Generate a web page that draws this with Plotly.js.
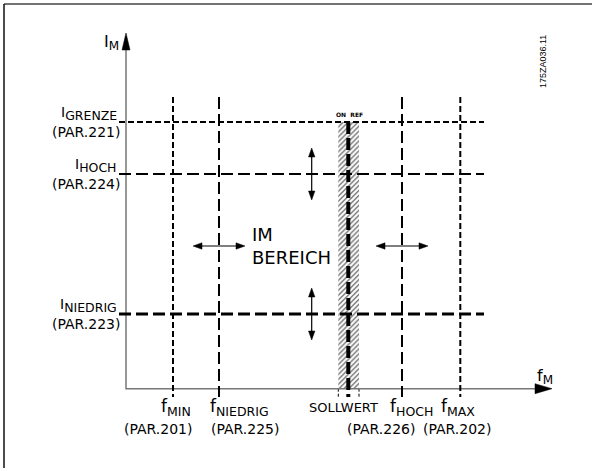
<!DOCTYPE html>
<html>
<head>
<meta charset="utf-8">
<script src="https://cdn.plot.ly/plotly-3.0.1.min.js"></script>
<style>html,body{margin:0;padding:0;background:#fff}#chart{width:592px;height:468px}</style>
</head>
<body>
<div id="chart"></div>
<script>
// ---- data (diagram units: origin at the axes' corner) ----
const freqSymbols = ['f', 'f', '', 'f', 'f'];
const freqSubs = ['MIN', 'NIEDRIG', '', 'HOCH', 'MAX'];
const freqNames = ['', '', 'SOLLWERT', '', ''];
const freqParams = ['(PAR.201)', '(PAR.225)', '', '(PAR.226)', '(PAR.202)'];
const freqValues = [47, 93, 222.3, 276, 334.3];
const currentSubs = ['GRENZE', 'HOCH', 'NIEDRIG'];
const currentParams = ['(PAR.221)', '(PAR.224)', '(PAR.223)'];
const currentValues = [266.7, 214.7, 74.7];
const sollwertBand = [212.3, 233];          // hatched reference band
const rangeText = 'IM<br>BEREICH';
const bandText = 'ON  REF';
const axisSymbols = ['I', 'f'];
const axisSubs = ['M', 'M'];
const drawingCode = '175ZA036.11';

// ---- styles / geometry ----
const FONT = 'DejaVu Sans, sans-serif';
const sub = (base, s, size) => base + '<sub><span style="font-size:' + size + 'px">' + s + '</span></sub>';
const xMin = -126, xMax = 466, yMin = -79.3, yMax = 388.7;
const lineTop = 291.7, lineBottom = -8.3, lineLeft = -7, lineRight = 358;
const xAxisEnd = 426, yAxisEnd = 355.7;
const freqDash = ['6px,3px', '12px,5px', '12px,4px', '12px,5px', '6px,3px'];
const freqWidth = [2, 2, 4, 2, 2];
const curDash = ['6px,3px', '12px,5px', '12px,5px'];
const curWidth = [2, 2, 3];
const arrowHalf = 26, vArrowX = 185.7, hArrowY = 142.7, headLen = 9, headHalf = 3.2;

const traces = [];
const skip = {hoverinfo: 'skip', showlegend: false};

// hatched band
traces.push(Object.assign({
  type: 'bar', x: [(sollwertBand[0] + sollwertBand[1]) / 2], y: [currentValues[0]], base: 0,
  width: sollwertBand[1] - sollwertBand[0],
  marker: {color: '#fff', line: {width: 0},
    pattern: {shape: '/', fgcolor: '#444', bgcolor: '#fff', size: 3.5, solidity: 0.3}}
}, skip));
// band edge ticks below the axis
sollwertBand.forEach(b => traces.push(Object.assign({
  type: 'scatter', mode: 'lines', x: [b, b], y: [0, lineBottom],
  line: {color: '#000', width: 1, dash: '3px,2px'}}, skip)));

// axes
traces.push(Object.assign({type: 'scatter', mode: 'lines', x: [0, 0, xAxisEnd - 15], y: [yAxisEnd - 15, 0, 0],
  line: {color: '#777', width: 1.5}}, skip));
const tri = (tx, ty, dx, dy, len, half) => {
  // triangle with tip (tx,ty) pointing in direction (dx,dy)
  const bx = tx - dx * len, by = ty - dy * len;
  return {x: [tx, bx - dy * half, bx + dy * half, tx], y: [ty, by + dx * half, by - dx * half, ty]};
};
const addTri = (t) => traces.push(Object.assign({type: 'scatter', mode: 'lines', fill: 'toself',
  fillcolor: '#000', x: t.x, y: t.y, line: {color: '#000', width: 0.5}}, skip));
addTri(tri(0, yAxisEnd, 0, 1, 17, 4));
addTri(tri(xAxisEnd, 0, 1, 0, 17, 5));

// current level lines
currentValues.forEach((v, i) => traces.push(Object.assign({
  type: 'scatter', mode: 'lines', x: [lineLeft, lineRight], y: [v, v],
  line: {color: '#000', width: curWidth[i], dash: curDash[i]}}, skip)));
// frequency lines
freqValues.forEach((v, i) => traces.push(Object.assign({
  type: 'scatter', mode: 'lines', x: [v, v],
  y: [i === 2 ? currentValues[0] : lineTop, lineBottom],
  line: {color: '#000', width: freqWidth[i], dash: freqDash[i]}}, skip)));

// double arrows around the HOCH / NIEDRIG levels and the fNIEDRIG / fHOCH limits
[currentValues[1], currentValues[2]].forEach(v => {
  traces.push(Object.assign({type: 'scatter', mode: 'lines', x: [vArrowX, vArrowX],
    y: [v - arrowHalf + 4, v + arrowHalf - 4], line: {color: '#000', width: 1.2}}, skip));
  addTri(tri(vArrowX, v + arrowHalf, 0, 1, headLen, headHalf));
  addTri(tri(vArrowX, v - arrowHalf, 0, -1, headLen, headHalf));
});
[freqValues[1], freqValues[3]].forEach(v => {
  traces.push(Object.assign({type: 'scatter', mode: 'lines', y: [hArrowY, hArrowY],
    x: [v - arrowHalf + 4, v + arrowHalf - 4], line: {color: '#000', width: 1.2}}, skip));
  addTri(tri(v + arrowHalf, hArrowY, 1, 0, headLen, headHalf));
  addTri(tri(v - arrowHalf, hArrowY, -1, 0, headLen, headHalf));
});

const ann = [];
const labFont = {family: FONT, size: 14, color: '#000'};
// left labels
currentValues.forEach((v, i) => {
  ann.push({x: -7, y: v + 9, text: sub('I', currentSubs[i], 12.5), xanchor: 'right', yanchor: 'middle',
    showarrow: false, font: {family: FONT, size: 14, color: '#000'}});
  ann.push({x: -4, y: v - 10, text: currentParams[i], xanchor: 'right', yanchor: 'middle',
    showarrow: false, font: labFont});
});
// bottom labels
const fLabX = [67, 82, 217, 285, 332];
const fLabAnchor = ['right', 'left', 'center', 'center', 'center'];
const fParX = [68, 83, 0, 255, 331];
const fParAnchor = ['right', 'left', 'center', 'center', 'center'];
freqValues.forEach((v, i) => {
  const txt = freqNames[i] || sub(freqSymbols[i], freqSubs[i], 12.5);
  ann.push({x: fLabX[i], y: -19, text: txt, xanchor: fLabAnchor[i], yanchor: 'middle',
    showarrow: false, font: {family: FONT, size: i === 2 ? 13 : 17, color: '#000'}});
  if (freqParams[i]) ann.push({x: fParX[i], y: -40.5, text: freqParams[i], xanchor: fParAnchor[i],
    yanchor: 'middle', showarrow: false, font: labFont});
});
// texts
ann.push({x: 124, y: 143, text: rangeText, xanchor: 'left', yanchor: 'middle', align: 'left',
  showarrow: false, font: {family: FONT, size: 18, color: '#000'}});
ann.push({x: (sollwertBand[0] + sollwertBand[1]) / 2 + 1, y: 274.5, text: bandText, xanchor: 'center',
  yanchor: 'middle', showarrow: false, font: {family: FONT, size: 6, color: '#000', weight: 'bold'}});
ann.push({x: -15, y: 346.5, text: sub(axisSymbols[0], axisSubs[0], 12), xanchor: 'center', yanchor: 'middle',
  showarrow: false, font: {family: FONT, size: 16, color: '#000'}});
ann.push({x: 419, y: 12.5, text: sub(axisSymbols[1], axisSubs[1], 12), xanchor: 'center', yanchor: 'middle',
  showarrow: false, font: {family: FONT, size: 16, color: '#000'}});
ann.push({x: 417, y: 326.7, text: drawingCode, textangle: -90, xanchor: 'center', yanchor: 'middle',
  showarrow: false, font: {family: 'Liberation Sans, sans-serif', size: 9, color: '#000'}});

const layout = {
  width: 592, height: 468, margin: {l: 0, r: 0, t: 0, b: 0},
  paper_bgcolor: '#fff', plot_bgcolor: '#fff', showlegend: false, hovermode: false,
  xaxis: {range: [xMin, xMax], visible: false, fixedrange: true},
  yaxis: {range: [yMin, yMax], visible: false, fixedrange: true},
  annotations: ann,
  shapes: [
    {type: 'line', xref: 'paper', yref: 'paper', x0: 4 / 592, x1: 1, y0: 1 - 4 / 468, y1: 1 - 4 / 468,
      line: {color: '#444', width: 1.5}},
    {type: 'line', xref: 'paper', yref: 'paper', x0: 4 / 592, x1: 4 / 592, y0: 1 - 4 / 468, y1: 0,
      line: {color: '#111', width: 1.5}}
  ]
};
Plotly.newPlot('chart', traces, layout, {staticPlot: true, displayModeBar: false});
</script>
</body>
</html>
